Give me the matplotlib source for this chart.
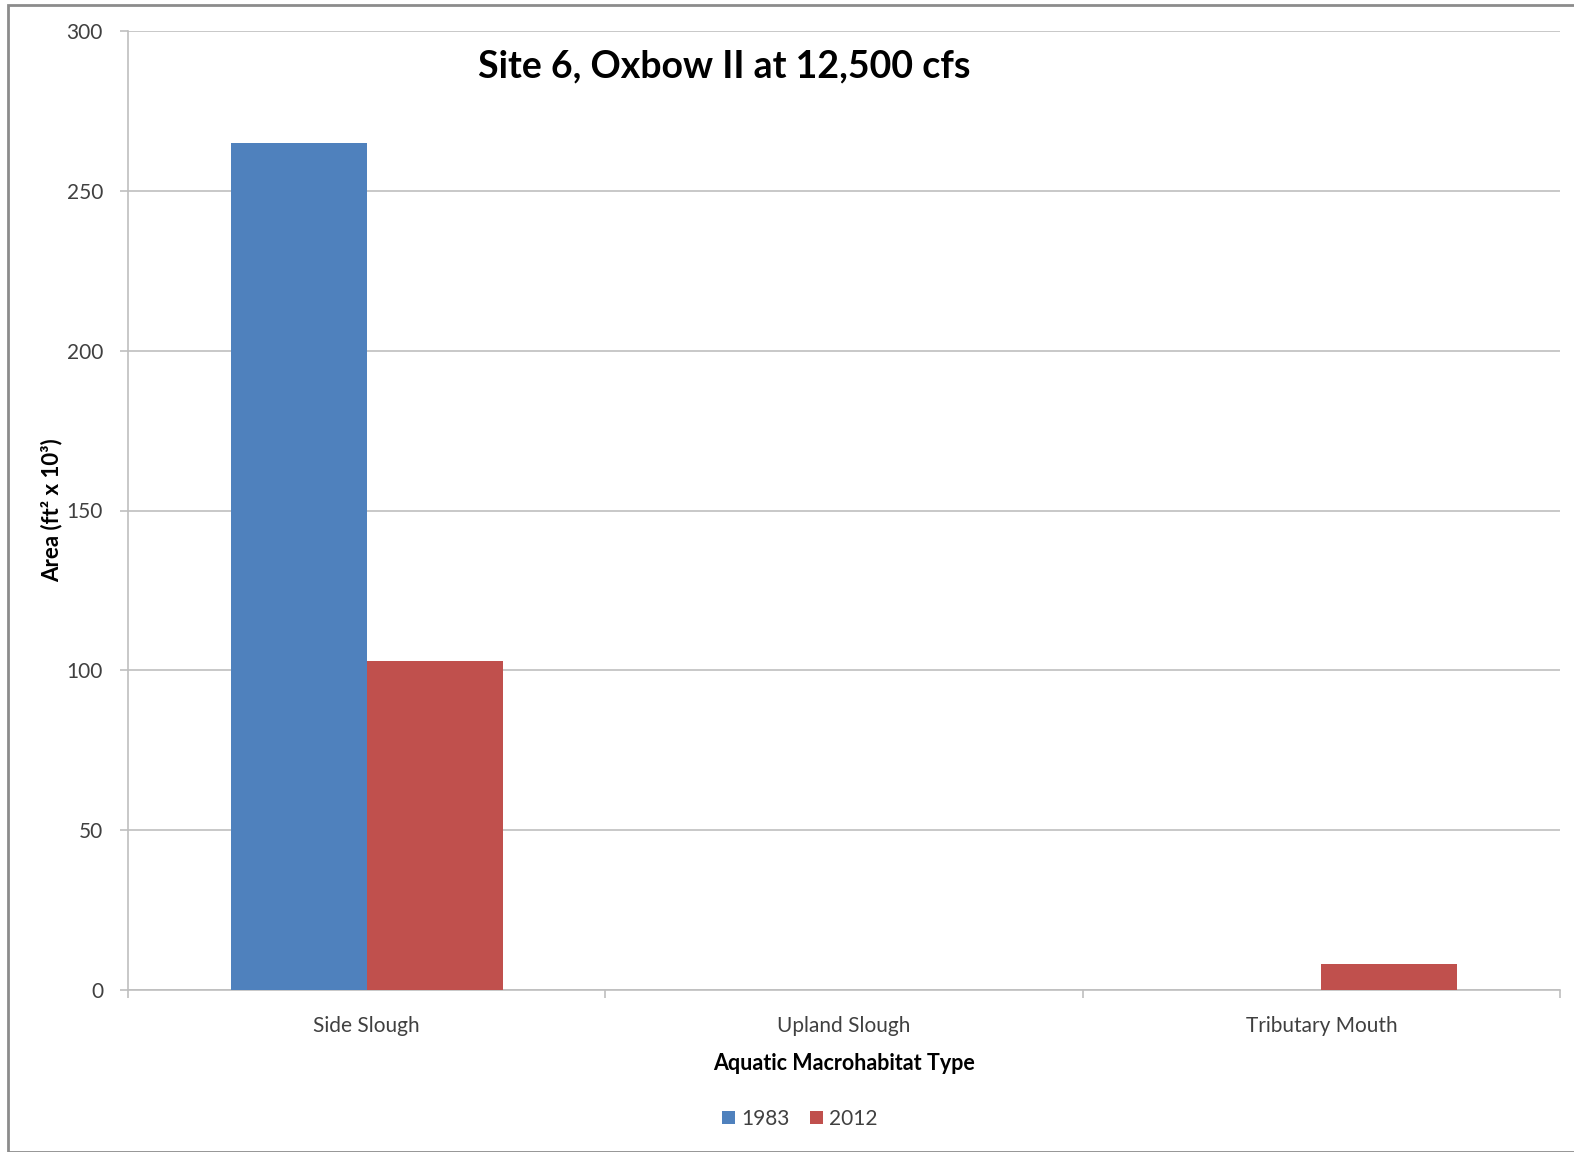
import numpy as np
import matplotlib.pyplot as plt
from matplotlib.patches import Rectangle

plt.rcParams['font.family'] = ['Lato', 'DejaVu Sans']

categories = ['Side Slough', 'Upland Slough', 'Tributary Mouth']
years = ['1983', '2012']
area_1983 = [265, 0, 0]
area_2012 = [103, 0, 8]
colors = ['#4F81BD', '#C0504D']

W, H = 1574, 1152
fig = plt.figure(figsize=(W / 100, H / 100), dpi=100)
ax = fig.add_axes([128 / W, 1 - 990 / H, (1560 - 128) / W, (990 - 31) / H])

x = np.arange(len(categories))
width = 0.285
ax.bar(x - width / 2, area_1983, width=width, color=colors[0], label=years[0], zorder=3)
ax.bar(x + width / 2, area_2012, width=width, color=colors[1], label=years[1], zorder=3)

ax.set_xlim(-0.5, 2.5)
ax.set_ylim(0, 300)
ax.set_yticks(np.arange(0, 301, 50))
ax.yaxis.grid(True, color='#BFBFBF', linewidth=1.2, zorder=0)
ax.set_axisbelow(True)

# category labels in the middle, tick marks on the boundaries
ax.set_xticks(x)
ax.set_xticklabels(categories)
ax.set_xticks([-0.5, 0.5, 1.5, 2.5], minor=True)
ax.tick_params(axis='x', which='major', length=0, pad=19, labelsize=15, labelcolor='#404040')
ax.tick_params(axis='x', which='minor', length=6, color='#BFBFBF', width=1.2)
ax.tick_params(axis='y', length=6, color='#BFBFBF', width=1.2, labelsize=15, labelcolor='#404040', pad=12)

for s in ['top', 'right']:
    ax.spines[s].set_visible(False)
for s in ['left', 'bottom']:
    ax.spines[s].set_color('#BFBFBF')
    ax.spines[s].set_linewidth(1.2)

ax.set_xlabel('Aquatic Macrohabitat Type', fontsize=15.5, fontweight='bold', labelpad=12)
ax.set_ylabel('Area (ft² x 10³)', fontsize=16, fontweight='bold', labelpad=3)

fig.text(724 / W, 1 - 66 / H, 'Site 6, Oxbow II at 12,500 cfs', fontsize=27,
         fontweight='bold', ha='center', va='center')

ax.legend(loc='center', bbox_to_anchor=(800 / W, 1 - 1119 / H), bbox_transform=fig.transFigure,
          ncol=2, frameon=False, fontsize=15, handlelength=0.6, handleheight=0.6,
          handletextpad=0.3, columnspacing=1.0, labelcolor='#404040')

fig.patches.append(Rectangle((8 / W, 0), 1.2, 1 - 5 / H, transform=fig.transFigure,
                             fill=False, edgecolor='#8C8C8C', linewidth=2))

fig.savefig('out.png', dpi=100)
